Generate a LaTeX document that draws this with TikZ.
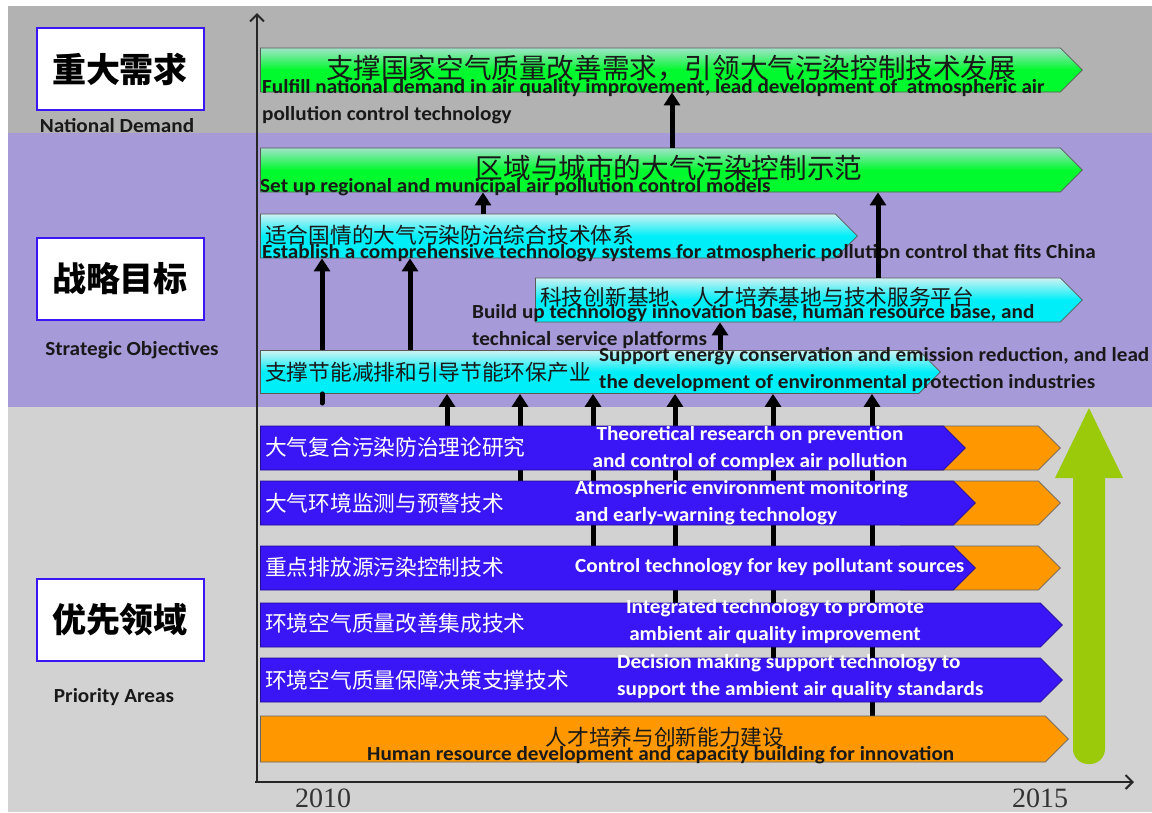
\documentclass[tikz,border=0pt]{standalone}
\usepackage{fontspec}
\setmainfont{Carlito}[FakeStretch=1.06]
\newfontfamily\cjk{Noto Sans CJK SC}
\newfontfamily\yearfont{Liberation Serif}
\usetikzlibrary{shapes.symbols,arrows.meta}
\pgfdeclarelayer{bands}
\pgfdeclarelayer{links}
\pgfsetlayers{bands,links,main}
\definecolor{topgray}{RGB}{178,178,178}
\definecolor{lowgray}{RGB}{210,210,210}
\definecolor{midpurple}{RGB}{166,154,216}
\definecolor{areablue}{RGB}{58,22,246}
\definecolor{areaorange}{RGB}{255,152,0}
\definecolor{demandgreen}{RGB}{0,250,45}
\definecolor{paleteal}{RGB}{160,228,200}
\definecolor{goalcyan}{RGB}{0,238,248}
\definecolor{palecyan}{RGB}{205,242,242}
\definecolor{timelime}{RGB}{155,202,10}
\definecolor{inktext}{RGB}{25,25,25}

\begin{document}
\begin{tikzpicture}[x=1pt,y=-1pt,
  bar/.style={signal,signal to=east,signal pointer angle=90,anchor=west,inner sep=0pt,
    minimum height=44pt,draw=black!65,line width=0.8pt},
  demandbar/.style={bar,top color=paleteal,bottom color=demandgreen,middle color=demandgreen},
  goalbar/.style={bar,top color=palecyan,bottom color=goalcyan,middle color=goalcyan},
  areabar/.style={bar,fill=areablue,draw=areablue!60!black},
  talentbar/.style={bar,fill=areaorange,draw=black!60},
  headbox/.style={draw=areablue,line width=2pt,fill=white,minimum width=167pt,minimum height=82pt,
    font=\cjk\bfseries\fontsize{34}{34}\selectfont},
  headlabel/.style={font=\bfseries\fontsize{20}{22}\selectfont,text=inktext},
  zh/.style={font=\cjk\fontsize{21.7}{24}\selectfont,text=inktext,inner sep=0pt,anchor=west},
  bigzh/.style={font=\cjk\fontsize{27.6}{30}\selectfont,text=inktext,inner sep=0pt},
  en/.style={font=\bfseries\fontsize{20}{27}\selectfont,text=inktext,inner sep=0pt,align=left},
  up/.style={line width=5pt,-{Triangle[length=13pt,width=16pt]}},
  axis/.style={line width=2pt,black!85,-{Straight Barb[length=7pt,width=14pt]}},
  year/.style={font=\yearfont\fontsize{28}{28}\selectfont,text=black!80}]
\useasboundingbox (0,0) rectangle (1152,812);
\begin{pgfonlayer}{bands}
  \fill[topgray] (8,6) rectangle (1152,133);
  \fill[midpurple] (8,133) rectangle (1152,407);
  \fill[lowgray] (8,407) rectangle (1152,812);
\end{pgfonlayer}

% left headings
\node[headbox] (demand) at (120,69) {重大需求};
\node[headlabel] (demandtxt) at (117,126) {National Demand};
\node[headbox] (goal) at (120,279) {战略目标};
\node[headlabel] (goaltxt) at (132,350) {Strategic Objectives};
\node[headbox] (area) at (120,620) {优先领域};
\node[headlabel] (areatxt) at (114,697) {Priority Areas};

% time axis
\coordinate (origin) at (257,782);
\coordinate (yend) at (257,13);
\coordinate (xend) at (1134,782);
\draw[axis] (255,782) -- (xend);
\draw[axis] (origin) -- (yend);
\node[year] (start) at (323,798) {2010};
\node[year] (finish) at (1040,798) {2015};

% bars
\node[demandbar,minimum width=822pt] (need) at (260,70) {};
\node[demandbar,minimum width=822pt] (demo) at (260,170) {};
\node[goalbar,minimum width=597pt] (system) at (260,236) {};
\node[goalbar,minimum width=547pt] (base) at (535,300) {};
\node[goalbar,minimum width=680pt,minimum height=43pt] (saving) at (260,372) {};
\foreach \yy/\nm in {448/tail1,503/tail2,568/tail3}
  \node[talentbar,minimum width=160pt] (\nm) at (900,\yy) {};
\node[areabar,minimum width=705pt] (theory) at (260,448) {};
\node[areabar,minimum width=715pt] (monitor) at (260,503) {};
\node[areabar,minimum width=715pt] (source) at (260,568) {};
\node[areabar,minimum width=802pt] (integr) at (260,625) {};
\node[areabar,minimum width=802pt] (decide) at (260,680) {};
\node[talentbar,minimum width=808pt,minimum height=46pt] (talent) at (260,739) {};

% big lime arrow
\fill[timelime,rounded corners=15pt] (1073,470) -- (1073,764) -- (1105,764) -- (1105,470);
\fill[timelime] (1089,408) -- (1123,478) -- (1055,478) -- cycle;

% texts
\node[bigzh] (needzh) at (671,68) {支撑国家空气质量改善需求，引领大气污染控制技术发展};
\node[en,anchor=west] (needen) at (262,102) {Fulfill national demand in air quality improvement, lead development of\ \ atmospheric air\\pollution control technology};
\node[bigzh] (demozh) at (669,168) {区域与城市的大气污染控制示范};
\node[en,anchor=base west] (demoen) at (260,192) {Set up regional and municipal air pollution control models};
\node[zh] (systemzh) at (265,235) {适合国情的大气污染防治综合技术体系};
\node[en,anchor=base west] (systemen) at (262,258) {Establish a comprehensive technology systems for atmospheric pollution control that fits China};
\node[zh] (basezh) at (540,297) {科技创新基地、人才培养基地与技术服务平台};
\node[en,anchor=west] (baseen) at (472,327) {Build up technology innovation base, human resource base, and\\technical service platforms};
\node[zh] (savingzh) at (265,372) {支撑节能减排和引导节能环保产业};
\node[en,anchor=west] (savingen) at (599,370) {Support energy conservation and emission reduction, and lead\\the development of environmental protection industries};

\node[zh,text=white] (theoryzh) at (265,447) {大气复合污染防治理论研究};
\node[en,text=white,align=center] (theoryen) at (750,449) {Theoretical research on prevention\\and control of complex air pollution};
\node[zh,text=white] (monitorzh) at (265,503) {大气环境监测与预警技术};
\node[en,text=white,anchor=west] (monitoren) at (575,503) {Atmospheric environment monitoring\\and early-warning technology};
\node[zh,text=white] (sourcezh) at (265,567) {重点排放源污染控制技术};
\node[en,text=white,anchor=base west] (sourceen) at (575,572) {Control technology for key pollutant sources};
\node[zh,text=white] (integrzh) at (265,623) {环境空气质量改善集成技术};
\node[en,text=white,align=center] (integren) at (775,622) {Integrated technology to promote\\ambient air quality improvement};
\node[zh,text=white] (decidezh) at (265,680) {环境空气质量保障决策支撑技术};
\node[en,text=white,anchor=west] (decideen) at (617,677) {Decision making support technology to\\support the ambient air quality standards};
\node[zh,anchor=center] (talentzh) at (665,737) {人才培养与创新能力建设};
\node[en,anchor=base west] (talenten) at (367,760) {Human resource development and capacity building for innovation};

% arrows
\draw[up] (demo.north -| 672,0) -- (need.south -| 672,0);
\draw[up] (system.north -| 483,0) -- (demo.south -| 483,0);
\draw[up] (base.north -| 878,0) -- (demo.south -| 878,0);
\draw[up] (saving.north -| 720,0) -- (base.south -| 720,0);
\foreach \xx in {322,410}
  \draw[up] (saving.north -| \xx,0) -- (system.south -| \xx,0);
\draw[line width=5pt,line cap=round] (saving.south -| 322,0) -- (322,403);
\begin{pgfonlayer}{links}
\foreach \src/\xx in {theory/447,monitor/520,source/593,integr/675,decide/773,talent/872}
  \draw[up] (\src.north -| \xx,0) -- (saving.south -| \xx,0);
\end{pgfonlayer}
\end{tikzpicture}
\end{document}
